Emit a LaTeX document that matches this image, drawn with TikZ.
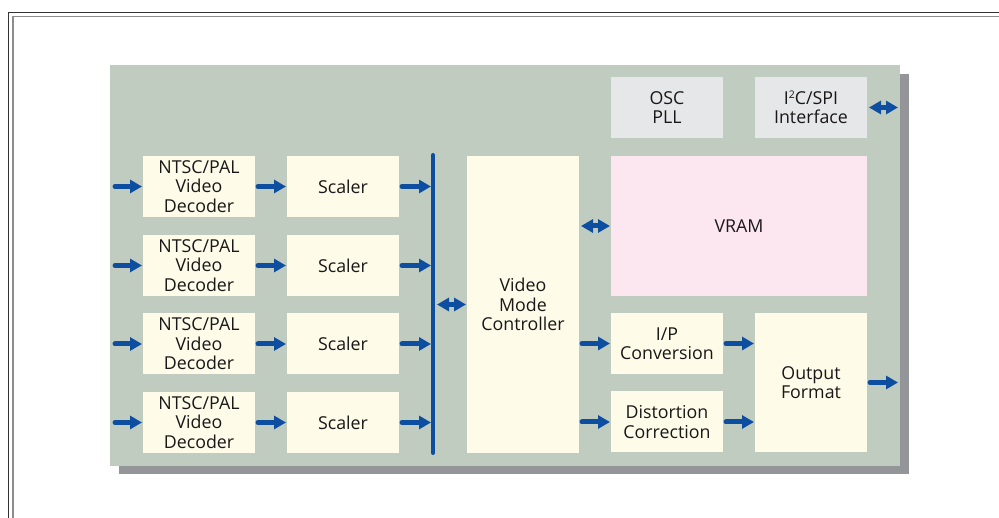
\documentclass[tikz,border=0pt]{standalone}
\usepackage{fontspec}
\setmainfont{Open Sans}
\usetikzlibrary{arrows.meta}
\definecolor{panel}{HTML}{C1CCC1}
\definecolor{shadowc}{HTML}{949599}
\definecolor{cream}{HTML}{FEFBE9}
\definecolor{lgray}{HTML}{E6E7E8}
\definecolor{vpink}{HTML}{FCE6F0}
\definecolor{ablue}{HTML}{0D4EA1}
\definecolor{txt}{HTML}{1A1718}
\begin{document}
\begin{tikzpicture}[x=1pt,y=-1pt,
 blk/.style={fill=cream, draw=none, minimum width=112pt, minimum height=61pt, outer sep=0pt, inner sep=0pt, align=center, text=txt, font=\fontsize{17.8}{19.5}\selectfont},
 arr/.style={ablue, line width=5pt, line cap=round, -{Triangle[length=12pt,width=13pt]}, shorten <=3pt, shorten >=1pt},
 darr/.style={ablue, line width=5pt, {Triangle[length=12pt,width=13pt]}-{Triangle[length=12pt,width=13pt]}, shorten <=2pt, shorten >=1pt},
 busline/.style={ablue, line width=4pt, line cap=round},
 frameo/.style={draw=black!80, line width=1.2pt},
 framei/.style={draw=black!45, line width=1.6pt},
]
\useasboundingbox (0,0) rectangle (999,518);
% frame
\draw[frameo] (8.5,518) -- (8.5,12.5) -- (999,12.5);
\draw[framei] (13,518) -- (13,16.5) -- (999,16.5);
% panel
\fill[shadowc] (119,74) rectangle (909,474);
\fill[panel] (110,65) rectangle (900,466);

% left column
\foreach \i/\y in {1/186.5,2/265.5,3/344,4/422.5}{
  \node[blk] (dec\i) at (199,\y) {NTSC/PAL\\Video\\Decoder};
  \node[blk] (sc\i) at (343,\y) {Scaler};
  \coordinate (in\i) at (112,\y);
  \coordinate (bus\i) at (433,\y);
  \draw[arr] (in\i) -- (dec\i.west);
  \draw[arr] (dec\i.east) -- (sc\i.west);
  \draw[arr, shorten >=2pt] (sc\i.east) -- (bus\i);
}
\coordinate (bustop) at (433,155);
\coordinate (busbot) at (433,453);
\coordinate (busmid) at (433,304.5);
\draw[busline] (bustop) -- (busbot);

\node[blk, minimum height=297pt] (vmc) at (523,304.5) {Video\\Mode\\Controller};
\draw[darr, shorten <=4pt] (busmid) -- (vmc.west);

\node[blk, fill=lgray] (osc) at (667,107.5) {OSC\\PLL};
\node[blk, fill=lgray] (i2c) at (811,107.5) {I\raisebox{0.62ex}{\fontsize{10.5}{10.5}\selectfont 2}C/SPI\\Interface};
\coordinate (i2cext) at (898,107.5);
\draw[darr, shorten <=2pt, shorten >=0pt] (i2c.east) -- (i2cext);

\node[blk, fill=vpink, minimum width=256pt, minimum height=140pt] (vram) at (739,226) {VRAM};
\draw[darr] (vmc.east |- vram.west) -- (vram.west);

\node[blk] (ipc) at (667,343.5) {I/P\\Conversion};
\node[blk] (dist) at (667,422) {Distortion\\Correction};
\node[blk, minimum height=139pt] (outf) at (811,382.5) {Output\\Format};
\coordinate (outext) at (898,382.5);

\draw[arr] (vmc.east |- ipc.west) -- (ipc.west);
\draw[arr] (vmc.east |- dist.west) -- (dist.west);
\draw[arr] (ipc.east) -- (ipc.east -| outf.west);
\draw[arr] (dist.east) -- (dist.east -| outf.west);
\draw[arr, shorten >=0pt] (outf.east) -- (outext);
\end{tikzpicture}
\end{document}
